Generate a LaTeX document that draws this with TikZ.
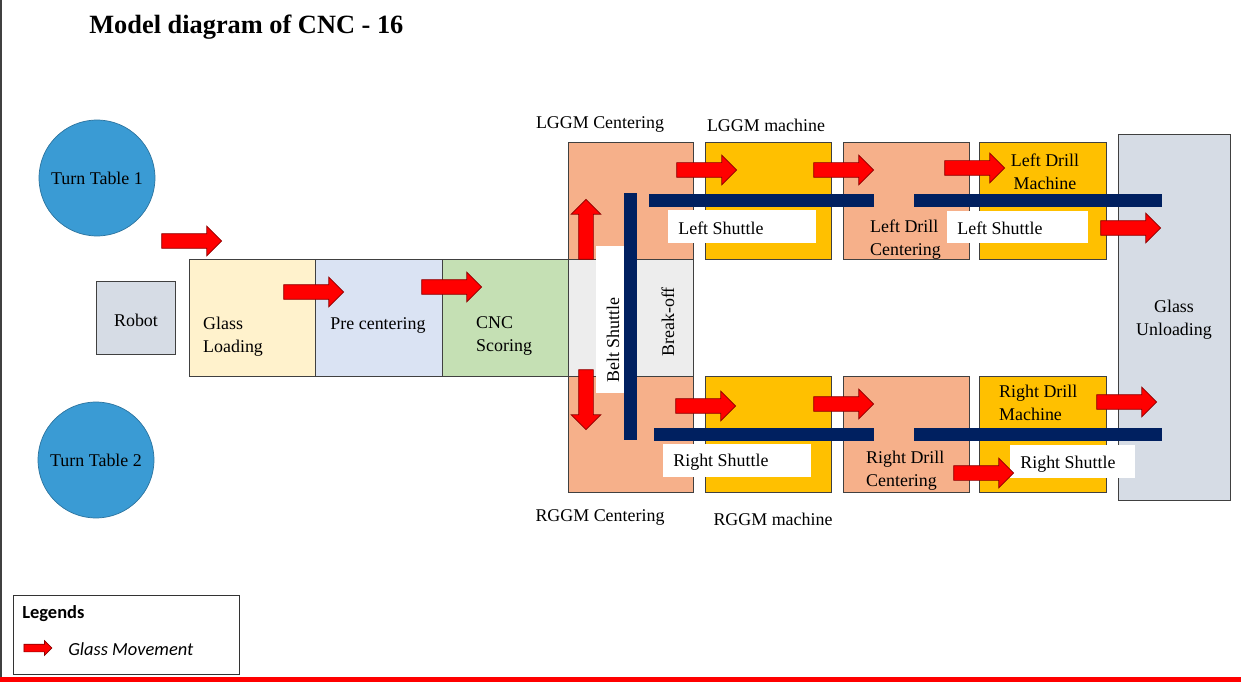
\documentclass[tikz,border=0pt]{standalone}
\usepackage{fontspec}
\setmainfont{Liberation Serif}
\newfontfamily\legendfont{Carlito}
\usetikzlibrary{shapes.arrows}

\definecolor{salmon}{HTML}{F6B08A}
\definecolor{gold}{HTML}{FFC000}
\definecolor{loadc}{HTML}{FFF2CC}
\definecolor{prec}{HTML}{DAE3F3}
\definecolor{cncc}{HTML}{C5E0B4}
\definecolor{breakc}{HTML}{EDEDED}
\definecolor{greyblue}{HTML}{D6DCE5}
\definecolor{navy}{HTML}{002060}
\definecolor{tblue}{HTML}{3A9BD4}
\definecolor{darkred}{HTML}{8B0000}

\begin{document}
\begin{tikzpicture}[x=0.02cm, y=-0.02cm, font=\fontsize{10.2}{13}\selectfont,
  stn/.style={draw=black!75, line width=0.5pt},
  tbl/.style={circle, fill=tblue, draw=tblue!75!black, line width=0.4pt, minimum size=2.32cm, inner sep=0pt},
  bar/.style={fill=navy},
  tag/.style={fill=white},
  move/.style={single arrow, draw=darkred, fill=red, line width=0.4pt, minimum height=1.2cm,
    inner xsep=0pt, inner ysep=0.14cm, single arrow head extend=0.15cm}]
\useasboundingbox (0,0) rectangle (1241,682);
\fill[black!75] (0,0) rectangle (2,682);
\fill[red] (0,677) rectangle (1241,682);

\node[font=\bfseries\fontsize{15}{18}\selectfont, anchor=west, inner sep=0pt] (title) at (89,27) {Model diagram of CNC - 16};

% turn tables and robot
\node[tbl] (tt1) at (97,178) {Turn Table 1};
\node[tbl] (tt2) at (96,460) {Turn Table 2};
\draw[stn, fill=greyblue] (96,281) rectangle (175,354);
\node (robot) at (136,320) {Robot};

% line stations
\draw[stn, fill=loadc] (189,259) rectangle (315,376);
\draw[stn, fill=prec] (315,259) rectangle (442,376);
\draw[stn, fill=cncc] (442,259) rectangle (568,376);
\draw[stn, fill=breakc] (568,259) rectangle (693,376);
\draw[stn, fill=salmon] (568,142) rectangle (693,259);
\draw[stn, fill=salmon] (568,376) rectangle (693,492);
\draw[stn, fill=gold] (705,142) rectangle (831,259);
\draw[stn, fill=salmon] (843,142) rectangle (969,259);
\draw[stn, fill=gold] (979,142) rectangle (1106,259);
\draw[stn, fill=gold] (705,376) rectangle (831,492);
\draw[stn, fill=salmon] (843,376) rectangle (969,492);
\draw[stn, fill=gold] (979,376) rectangle (1106,492);
\draw[stn, fill=greyblue] (1118,134) rectangle (1230,500);

\node[align=left, anchor=west] (load) at (197,337) {Glass\\Loading};
\node (pre) at (378,326) {Pre centering};
\node[align=left, anchor=west] (cnc) at (470,336) {CNC\\Scoring};
\node[rotate=90] (brk) at (668,322) {Break-off};
\node (lggmc) at (600,125) {LGGM Centering};
\node (lggm) at (766,125) {LGGM machine};
\node (rggmc) at (600,517) {RGGM Centering};
\node (rggm) at (773,519) {RGGM machine};
\node[align=left, anchor=west] (ldc) at (864,240) {Left Drill\\Centering};
\node[align=center] (ldm) at (1045,172) {Left Drill\\Machine};
\node[align=left, anchor=west] (rdc) at (860,471) {Right Drill\\Centering};
\node[align=left, anchor=west] (rdm) at (993,403) {Right Drill\\Machine};
\node[align=center] (unload) at (1174,320) {Glass\\Unloading};

% shuttle labels
\fill[tag] (596,246) rectangle (629,393);
\node[rotate=90] (belt) at (613,340) {Belt Shuttle};
\fill[tag] (668,210) rectangle (816,243);
\node[anchor=west, inner sep=0pt] (ls1) at (678,228) {Left Shuttle};
\fill[tag] (947,211) rectangle (1088,243);
\node[anchor=west, inner sep=0pt] (ls2) at (957,228) {Left Shuttle};
\fill[tag] (663,444) rectangle (811,477);
\node[anchor=west, inner sep=0pt] (rs1) at (673,462) {Right Shuttle};
\fill[tag] (1010,445) rectangle (1135,478);
\node[anchor=west, inner sep=0pt] (rs2) at (1020,464) {Right Shuttle};

% shuttle bars
\fill[bar] (624,193) rectangle (637,440);
\fill[bar] (649,194) rectangle (874,207);
\fill[bar] (914,194) rectangle (1162,207);
\fill[bar] (654,428) rectangle (874,441);
\fill[bar] (914,428) rectangle (1162,441);

% glass movement
\node[move] (m1) at (188,241) {};
\node[move] (m2) at (310,292) {};
\node[move] (m3) at (448,287) {};
\node[move, rotate=90] (m4) at (586,233) {};
\node[move, rotate=-90] (m5) at (586,396) {};
\node[move] (m6) at (703,170) {};
\node[move] (m7) at (840,170) {};
\node[move] (m8) at (971,168) {};
\node[move] (m9) at (1127,228) {};
\node[move] (m10) at (702,406) {};
\node[move] (m11) at (840,404) {};
\node[move] (m12) at (980,473) {};
\node[move] (m13) at (1123,402) {};

% legend
\draw[black!80, line width=0.5pt] (13,595) rectangle (239,674);
\node[font=\legendfont\bfseries\fontsize{10.5}{12}\selectfont, anchor=west, inner sep=0pt] (leg) at (22,614) {Legends};
\node[move, minimum height=0.56cm, inner ysep=0.07cm, single arrow head extend=0.07cm] (legarrow) at (36,648) {};
\node[font=\legendfont\itshape\fontsize{10.5}{12}\selectfont, anchor=west, inner sep=0pt] (legtxt) at (68,649) {Glass Movement};
\end{tikzpicture}
\end{document}
